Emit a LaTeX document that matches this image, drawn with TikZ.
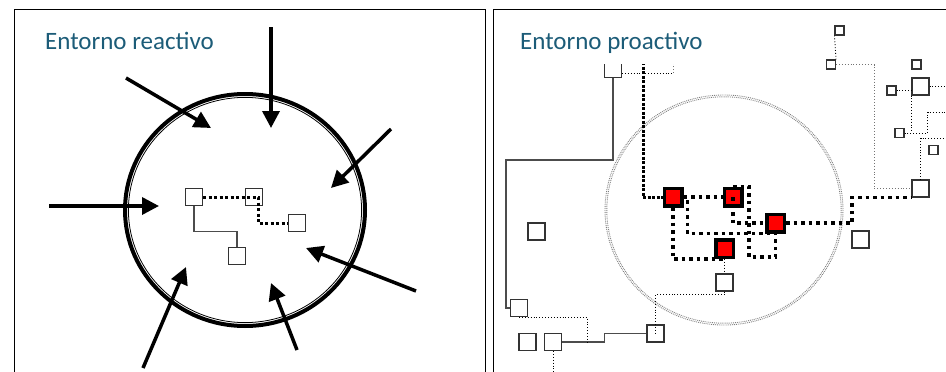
\documentclass[tikz,border=0pt]{standalone}
\usepackage{fontspec}
\setmainfont{Carlito}
\usetikzlibrary{arrows.meta,calc}
\definecolor{azul}{RGB}{28,92,120}
\begin{document}
\begin{tikzpicture}[x=1pt,y=-1pt,
  caja/.style={draw=black!80,line width=1.1pt,fill=white,minimum size=17pt,inner sep=0pt},
  cajita/.style={caja,minimum size=9pt},
  rojo/.style={draw=black,line width=3.5pt,fill=red,minimum size=17.5pt,inner sep=0pt},
  fina/.style={draw=black!70,line width=1.2pt},
  puntos/.style={draw=black,line width=0.9pt,dotted},
  puntosgris/.style={draw=black!55,line width=0.9pt,dotted},
  punteado/.style={line width=3.5pt,dash pattern=on 3.5pt off 4pt},
  punteadoL/.style={line width=3pt,dash pattern=on 3pt off 2.5pt},
  punteadoD/.style={line width=3pt,dash pattern=on 3pt off 1.5pt},
  flecha/.style={line width=3.5pt,-{Triangle[length=17pt,width=17pt]}},
  borde/.style={draw=black!50,line width=0.9pt,densely dotted},
  titulo/.style={font=\fontsize{25}{28}\selectfont,text=azul,fill=white,
    text height=16pt,text depth=5pt,inner xsep=15pt,inner ysep=10pt,anchor=west}]
\useasboundingbox (0,0) rectangle (946,372);
\draw[line width=1pt] (14,9) rectangle (485,380);
\draw[line width=1pt] (493,9) rectangle (960,380);

% entorno reactivo
\coordinate (cL) at (245,210);
\draw[line width=4pt] (cL) ellipse [x radius=120, y radius=116];
\draw[line width=0.8pt] (cL) ellipse [x radius=116.6, y radius=112.6];
\node[caja] (a1) at (194,197) {};
\node[caja] (a2) at (254,197) {};
\node[caja] (a3) at (297,223) {};
\node[caja] (a4) at (237,256) {};
\draw[punteadoL] (a1.east) -- ++(55,0) |- (a3.west);
\draw[fina] (a1.south) -- ++(0,25.5) -| (a4.north);
\foreach \i/\a/\b in {1/{271,27}/{271,128},2/{126,78}/{211,128},3/{391,129}/{331,188},
  4/{49,206}/{159,206},5/{416,291}/{306,248},6/{143,368}/{186,267},7/{297,350}/{271,283}}{
  \coordinate (s\i) at (\a);
  \coordinate (t\i) at (\b);
  \draw[flecha] (s\i) -- (t\i);
}

% entorno proactivo
\coordinate (cR) at (724,210);
\draw[borde] (cR) ellipse [x radius=119, y radius=115];
\draw[borde] (cR) ellipse [x radius=117.2, y radius=113.2];
\node[caja] (b1) at (613,69) {};
\node[caja] (b2) at (536.5,231.5) {};
\node[caja] (b3) at (519,308) {};
\node[caja] (b4) at (527.5,342) {};
\node[caja] (b5) at (553,342) {};
\node[caja] (b6) at (655.5,333.5) {};
\node[caja] (b7) at (724.5,282.5) {};
\node[caja] (b8) at (860.5,239.5) {};
\node[caja] (b9) at (920.5,188.5) {};
\node[caja] (b10) at (920.5,86.5) {};
\node[cajita] (s1) at (839.5,30.5) {};
\node[cajita] (s2) at (831,64.5) {};
\node[cajita] (s3) at (916.5,64.5) {};
\node[cajita] (s4) at (891.5,90.5) {};
\node[cajita] (s5) at (899.5,133) {};
\node[cajita] (s6) at (933.5,150) {};
\node[rojo] (r1) at (673,197) {};
\node[rojo] (r2) at (733,197) {};
\node[rojo] (r3) at (775.5,223) {};
\node[rojo] (r4) at (724.5,248.5) {};

\coordinate (k1) at (506,160);
\coordinate (k2) at (673,73);
\coordinate (k3) at (553,380);
\coordinate (k4) at (950,86.5);
\coordinate (k5) at (950,112);
\coordinate (k6) at (950,138);
\coordinate (k7) at (643,62);
\draw[fina] (b1.south) |- (k1) |- (b3.west);
\draw[fina] (b6.west) -- ++(-42,0) |- (b5.east);
\draw[puntos] ($(b1.east)+(0,4)$) -- (k2);
\draw[puntosgris] (k2) -- ++(0,-10);
\draw[puntos] (r4.south) -- (b7.north);
\draw[puntos] (b7.south) -- ++(0,3) -| (b6.center);
\draw[puntos] (b3.south) -- ++(68,0) -- ++(0,25);
\draw[puntos] (b5.south) -- (k3);
\draw[puntos] (s1.south west) -- (s2.north east);
\draw[puntosgris] (s2.east) -- ++(38,0) |- (b9.west);
\draw[puntos] (s4.east) -- (s4.east -| b10.west);
\draw[puntos] (b10.east) -- (k4);
\draw[puntos] (b10.south west) |- (s5.east);
\draw[puntos] (s5.east) -| ++(23,-21) -- (k5);
\draw[puntos] (b9.north) |- (k6);

\draw[punteadoD] (k7) |- (r1.west);
\draw[punteado] (r1.east) -- (r2.west);
\draw[punteado] (r1.south) |- (r4.south);
\draw[punteado] ($(r1.east)+(4,3)$) |- (r3.south);
\draw[punteado] (r2.north) -| ++(16,70.5) -| (r3.south);
\draw[punteado] (r2.center) |- (r3.west);
\draw[punteado] (r3.east) -- ++(66,0) |- (b9.south west);

\node[titulo] (tL) at (30,43.5) {Entorno reactivo};
\node[titulo] (tR) at (505,43.5) {Entorno proactivo};
\end{tikzpicture}
\end{document}
